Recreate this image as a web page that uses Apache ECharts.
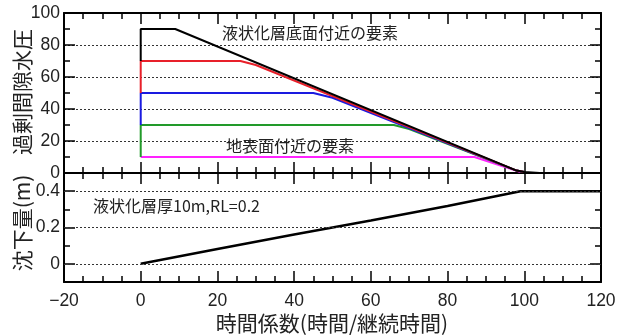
<!DOCTYPE html>
<html>
<head>
<meta charset="utf-8">
<script src="https://cdn.jsdelivr.net/npm/echarts@6/dist/echarts.min.js"></script>
<style>html,body{margin:0;padding:0;background:#fff}#c{width:626px;height:336px}</style>
</head>
<body>
<div id="c"></div>
<script>
// ---- data (time factor, value) ----
const pressureBlack   = [[0,70],[0,90],[9,90],[98,1.5],[100,0.6],[104,0]];
const pressureRed     = [[0,50],[0,70],[26,70],[30,67.5],[98,1.5],[100,0.6]];
const pressureBlue    = [[0,30],[0,50],[45,50],[50,47],[98,1.5],[100,0.6]];
const pressureGreen   = [[0,10],[0,30],[66,30],[70,27.5],[98,1.5],[100,0.6]];
const pressureMagenta = [[0,10],[87,10],[99,0.6]];
const settlement      = [[0,0],[20,0.082],[40,0.162],[60,0.238],[80,0.318],[99,0.4],[120,0.4]];
const bottomGridValues = [0, 0.2, 0.4];
const bottomLabelValues = [0, 0.2, 0.4];

const xMin = -20, xMax = 120, xInterval = 20;
const topMin = 0, topMax = 100, topInterval = 20;
const botMin = -0.1, botMax = 0.5, botInterval = 0.1;

const labelTopText = '液状化層底面付近の要素';
const labelSurfText = '地表面付近の要素';
const labelBottomText = '液状化層厚10m,RL=0.2';
const yNameTop = '過剰間隙水圧';
const yNameBottom = '沈下量(m)';
const xName = '時間係数(時間/継続時間)';

const JP = '"Noto Sans CJK JP","Noto Sans",sans-serif';
const NUM = '"Liberation Sans",Arial,sans-serif';
const AXC = '#000';
const LBL = 17.5;

function xAx(grid, pos, labels) {
  return {
    type: 'value', gridIndex: grid, position: pos, min: xMin, max: xMax, interval: xInterval,
    axisLine: { show: true, onZero: false, lineStyle: { color: AXC, width: 2 } },
    axisTick: { show: true, inside: true, length: 11, lineStyle: { color: AXC, width: 1.5 } },
    minorTick: { show: true, splitNumber: 4, length: 6, lineStyle: { color: AXC, width: 1.5 } },
    axisLabel: { show: labels, margin: 10, fontSize: LBL, color: '#222', fontFamily: NUM,
      formatter: v => String(v).replace('-', '\u2212') },
    splitLine: { show: false }
  };
}
const gridLine = { show: true, lineStyle: { color: '#333', width: 1, type: [2, 2] } };

const option = {
  animation: false,
  grid: [
    { left: 64, right: 25, top: 13, height: 160 },
    { left: 64, right: 25, top: 173, height: 109 }
  ],
  xAxis: [ xAx(0, 'bottom', false), xAx(0, 'top', false), xAx(1, 'bottom', true), xAx(1, 'top', false) ],
  yAxis: [
    { type: 'value', gridIndex: 0, position: 'left', min: topMin, max: topMax, interval: topInterval,
      axisLine: { show: true, onZero: false, lineStyle: { color: AXC, width: 2 } },
      axisTick: { show: true, inside: true, length: 11, lineStyle: { color: AXC, width: 1.5 } },
      minorTick: { show: true, splitNumber: 2, length: 6, lineStyle: { color: AXC, width: 1.5 } },
      axisLabel: { margin: 4, fontSize: LBL, color: '#222', fontFamily: NUM },
      splitLine: gridLine },
    { type: 'value', gridIndex: 0, position: 'right', min: topMin, max: topMax, interval: topInterval,
      axisLine: { show: true, onZero: false, lineStyle: { color: AXC, width: 2 } },
      axisTick: { show: true, inside: true, length: 11, lineStyle: { color: AXC, width: 1.5 } },
      minorTick: { show: true, splitNumber: 2, length: 6, lineStyle: { color: AXC, width: 1.5 } },
      axisLabel: { show: false }, splitLine: { show: false } },
    // bottom-left: ticks every 0.1 with labels at 0/0.2/0.4
    { type: 'value', gridIndex: 1, position: 'left', min: botMin, max: botMax, interval: botInterval,
      axisLine: { show: true, onZero: false, lineStyle: { color: AXC, width: 2 } },
      axisTick: { show: true, inside: true, length: 6, lineStyle: { color: AXC, width: 1.5 } },
      axisLabel: { margin: 4, fontSize: LBL, color: '#222', fontFamily: NUM,
        formatter: v => { const r = Math.round(v * 10); return (r >= 0 && r <= 4 && r % 2 === 0) ? (r === 0 ? '0' : (r / 10).toFixed(1)) : ''; } },
      splitLine: { show: false } },
    // bottom-left major ticks
    { type: 'value', gridIndex: 1, position: 'left', min: botMin, max: botMax, interval: botInterval,
      axisLine: { show: false, onZero: false },
      axisTick: { show: true, inside: true, length: 11, customValues: bottomLabelValues, lineStyle: { color: AXC, width: 1.5 } },
      axisLabel: { show: false }, splitLine: { show: false } },
    { type: 'value', gridIndex: 1, position: 'right', min: botMin, max: botMax, interval: botInterval,
      axisLine: { show: true, onZero: false, lineStyle: { color: AXC, width: 2 } },
      axisTick: { show: true, inside: true, length: 6, lineStyle: { color: AXC, width: 1.5 } },
      axisLabel: { show: false }, splitLine: { show: false } },
    { type: 'value', gridIndex: 1, position: 'right', min: botMin, max: botMax, interval: botInterval,
      axisLine: { show: false, onZero: false },
      axisTick: { show: true, inside: true, length: 11, customValues: bottomLabelValues, lineStyle: { color: AXC, width: 1.5 } },
      axisLabel: { show: false }, splitLine: { show: false } }
  ],
  series: [
    { type: 'line', xAxisIndex: 0, yAxisIndex: 0, data: pressureMagenta, showSymbol: false, lineStyle: { color: '#ff22ff', width: 2 } },
    { type: 'line', xAxisIndex: 0, yAxisIndex: 0, data: pressureGreen, showSymbol: false, lineStyle: { color: '#229a2a', width: 2 } },
    { type: 'line', xAxisIndex: 0, yAxisIndex: 0, data: pressureBlue, showSymbol: false, lineStyle: { color: '#1a1ae0', width: 2 } },
    { type: 'line', xAxisIndex: 0, yAxisIndex: 0, data: pressureRed, showSymbol: false, lineStyle: { color: '#e8202a', width: 2 } },
    { type: 'line', xAxisIndex: 0, yAxisIndex: 0, data: pressureBlack, showSymbol: false, lineStyle: { color: '#000', width: 2 } },
    { type: 'line', xAxisIndex: 2, yAxisIndex: 2, data: settlement, showSymbol: false, lineStyle: { color: '#000', width: 2.5 }, z: 3,
      markLine: { silent: true, symbol: 'none', label: { show: false },
        lineStyle: { color: '#333', width: 1, type: [2, 2] },
        data: bottomGridValues.map(v => ({ yAxis: v })) } }
  ],
  graphic: [
    { type: 'text', x: 222, y: 33, style: { text: labelTopText, font: '16px ' + JP, fill: '#222', textAlign: 'left', textVerticalAlign: 'middle' } },
    { type: 'text', x: 226, y: 146, style: { text: labelSurfText, font: '16px ' + JP, fill: '#222', textAlign: 'left', textVerticalAlign: 'middle' } },
    { type: 'text', x: 93, y: 206, style: { text: labelBottomText, font: '16px ' + JP, fill: '#222', textAlign: 'left', textVerticalAlign: 'middle' } },
    { type: 'text', x: 22, y: 92, rotation: Math.PI / 2, style: { text: yNameTop, font: '21px ' + JP, fill: '#222', textAlign: 'center', textVerticalAlign: 'middle' } },
    { type: 'text', x: 22, y: 223, rotation: Math.PI / 2, style: { text: yNameBottom, font: '21px ' + JP, fill: '#222', textAlign: 'center', textVerticalAlign: 'middle' } },
    { type: 'text', x: 332, y: 323, style: { text: xName, font: '21px ' + JP, fill: '#222', textAlign: 'center', textVerticalAlign: 'middle' } }
  ]
};
echarts.init(document.getElementById('c'), null, { renderer: 'canvas' }).setOption(option);
</script>
</body>
</html>
